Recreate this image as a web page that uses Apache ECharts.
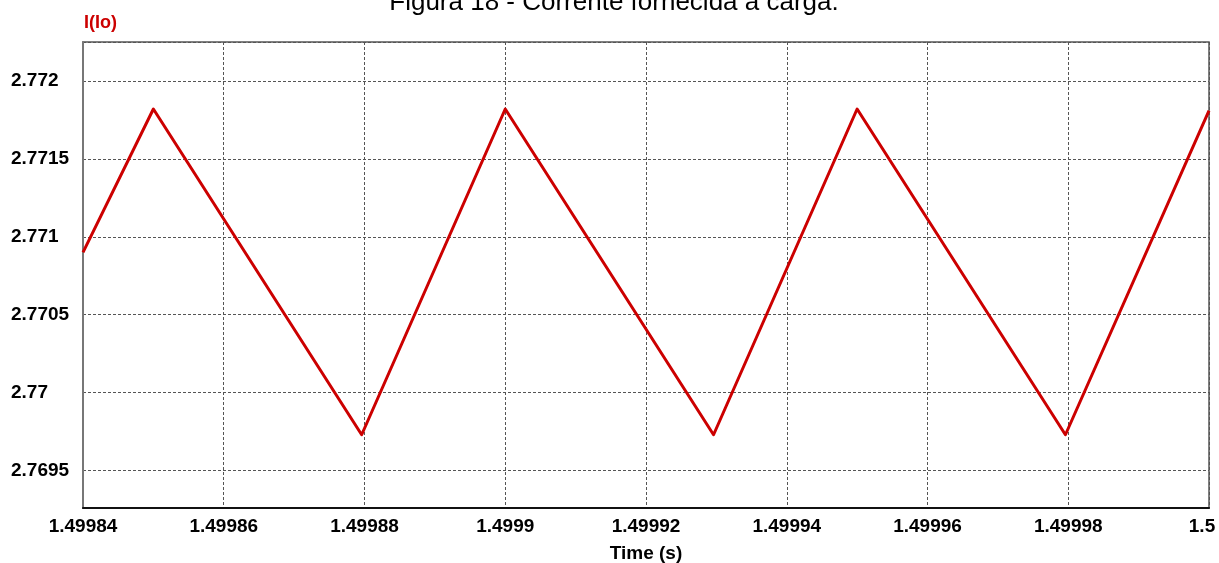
<!DOCTYPE html>
<html>
<head>
<meta charset="utf-8">
<title>Figura 18 - Corrente fornecida à carga.</title>
<script src="https://cdn.jsdelivr.net/npm/echarts@6/dist/echarts.min.js"></script>
<style>
  html, body { margin: 0; padding: 0; background: #ffffff; }
  #chart { width: 1219px; height: 563px; }
</style>
</head>
<body>
<div id="chart"></div>
<script>
// Load current I(Io) over the last switching periods of the simulation
const timeS    = [1.49984, 1.49985, 1.4998796, 1.49990, 1.4999296, 1.49995, 1.4999796, 1.50000];
const currentA = [2.77090, 2.77182, 2.76973,   2.77182, 2.76973,   2.77182, 2.76973,   2.77181];

// Axis ranges
const timeMin = 1.49984, timeMax = 1.5, timeStep = 0.00002;
const currentMin = 2.76926, currentMax = 2.77225;

const FONT = "Arial, 'Liberation Sans', sans-serif";
const RED = '#cc0000';
const labelStyle = { fontFamily: FONT, fontWeight: 'bold', fontSize: 19, color: '#000000' };

const chart = echarts.init(document.getElementById('chart'), null, { renderer: 'canvas' });

chart.setOption({
  animation: false,
  backgroundColor: '#ffffff',
  grid: {
    left: 83, right: 10, top: 42, bottom: 55,
    outerBoundsMode: 'none', containLabel: false,
    show: true, borderColor: '#555555', borderWidth: 1.5, backgroundColor: 'transparent'
  },
  graphic: [
    {
      type: 'text', z: 10,
      style: {
        text: 'Figura 18 - Corrente fornecida à carga.',
        x: 614, y: 3, align: 'center', verticalAlign: 'middle',
        font: 'normal 26px ' + FONT, fill: '#000000'
      }
    },
    {
      type: 'text', z: 10,
      style: {
        text: 'I(Io)', x: 84, y: 23, align: 'left', verticalAlign: 'middle',
        font: 'bold 18px ' + FONT, fill: RED
      }
    }
  ],
  xAxis: {
    type: 'value',
    min: timeMin, max: timeMax, interval: timeStep,
    name: 'Time (s)', nameLocation: 'middle', nameGap: 36,
    nameTextStyle: labelStyle,
    axisLine: { show: true, lineStyle: { color: '#111111', width: 2 } },
    axisTick: { show: false },
    axisLabel: Object.assign({
      margin: 9,
      // the last label is nudged left so it stays inside the page
      formatter: v => {
        const s = String(+v.toFixed(5));
        return Math.abs(v - timeMax) < 1e-9 ? '{end|' + s + '}' : s;
      },
      rich: { end: Object.assign({ padding: [0, 14, 0, 0] }, labelStyle) }
    }, labelStyle),
    splitLine: { show: true, lineStyle: { color: '#555555', width: 1, type: [3, 2] } }
  },
  yAxis: {
    type: 'value',
    min: currentMin, max: currentMax, splitNumber: 6,
    axisLine: { show: true, lineStyle: { color: '#777777', width: 2 } },
    axisTick: { show: false },
    axisLabel: Object.assign({
      margin: 72, align: 'left', showMinLabel: false, showMaxLabel: false,
      padding: [3, 0, 0, 0],
      formatter: v => String(+v.toFixed(4))
    }, labelStyle),
    splitLine: { show: true, lineStyle: { color: '#555555', width: 1, type: [3, 2] } }
  },
  series: [{
    type: 'line',
    data: timeS.map((t, i) => [t, currentA[i]]),
    showSymbol: false,
    clip: true,
    lineStyle: { color: RED, width: 3, join: 'round' },
    z: 5
  }]
});
</script>
</body>
</html>
